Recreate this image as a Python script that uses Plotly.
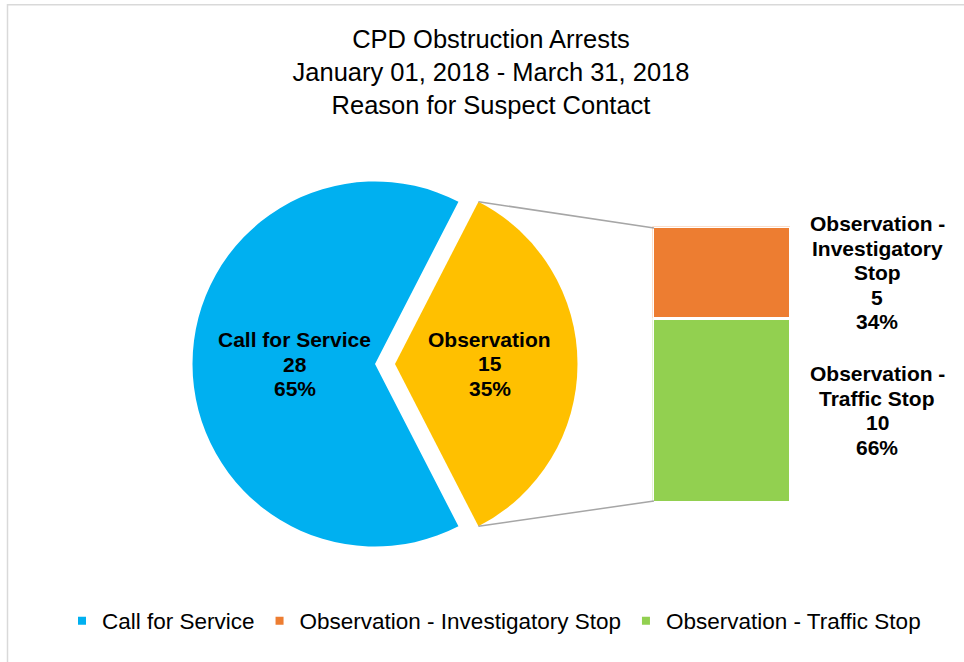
import math
import plotly.graph_objects as go

# ---- data -------------------------------------------------------------
pie_labels = ["Call for Service", "Observation"]
pie_values = [28, 15]
pie_colors = ["#00B0F0", "#FFC000"]

bar_labels = ["Observation - Traffic Stop", "Observation - Investigatory Stop"]
bar_values = [10, 5]
bar_pct_labels = ["66%", "34%"]
bar_colors = ["#92D050", "#ED7D31"]
bar_text_lines = [["Observation -", "Traffic Stop"], ["Observation -", "Investigatory", "Stop"]]

legend_names = ["Call for Service", "Observation - Investigatory Stop", "Observation - Traffic Stop"]
legend_colors = ["#00B0F0", "#ED7D31", "#92D050"]

title_lines = ["CPD Obstruction Arrests", "January 01, 2018 - March 31, 2018", "Reason for Suspect Contact"]

# ---- layout geometry (pixels) ----------------------------------------
W, H = 964, 662
FONT = "Arial, 'Liberation Sans', sans-serif"
LABEL_SIZE = 21
LINE_PITCH = 24.5

def fx(p):
    return p / W

def fy(p):
    return 1 - p / H

PIE_CX, PIE_CY, PIE_R = 375.0, 364.0, 182.5
PULL_PX = 20.0
pull = PULL_PX / PIE_R
half_box = PIE_R * (1 + pull)
label_radius = [0.44, 0.52]   # radial position of each slice label (fraction of radius)

BAR_L, BAR_R = 652.5, 790.5
BAR_TOP, BAR_BOT = 226.5, 502.5
BAR_LABEL_X = 877

total_pie = sum(pie_values)
total_obs = sum(bar_values)
obs_share = pie_values[1] / total_pie
half_angle = math.pi * obs_share            # half of the exploded slice
rotation = 90 + math.degrees(half_angle)    # centre the exploded slice at 3 o'clock
pulls = [0, pull]

fig = go.Figure()

fig.add_trace(go.Pie(
    labels=pie_labels,
    values=pie_values,
    sort=False,
    direction="clockwise",
    rotation=rotation,
    pull=pulls,
    marker=dict(colors=pie_colors, line=dict(width=0)),
    textinfo="none",
    hoverinfo="label+value+percent",
    showlegend=False,
    domain=dict(x=[fx(PIE_CX - half_box), fx(PIE_CX + half_box)],
                y=[fy(PIE_CY + half_box), fy(PIE_CY - half_box)]),
))

for name, val, col in zip(bar_labels, bar_values, bar_colors):
    fig.add_trace(go.Bar(
        x=[0], y=[val], name=name, width=1,
        marker=dict(color=col, line=dict(color="white", width=3)),
        showlegend=False, hoverinfo="name+y",
    ))

for name, col in zip(legend_names, legend_colors):
    fig.add_trace(go.Scatter(
        x=[None], y=[None], mode="markers", name=name,
        marker=dict(symbol="square", size=8, color=col),
    ))


def text_block(lines, x, y, yref):
    """Centred multi-line bold label with a fixed line pitch."""
    out = []
    n = len(lines)
    for i, line in enumerate(lines):
        out.append(dict(
            x=x, xref="paper", y=y, yref=yref,
            yshift=((n - 1) / 2 - i) * LINE_PITCH,
            text=f"<b>{line}</b>", showarrow=False,
            xanchor="center", yanchor="middle",
            font=dict(family=FONT, size=LABEL_SIZE, color="black"),
        ))
    return out


annotations = []

# slice labels: name, count and share, placed along each slice's bisector
start = math.radians(rotation)
for lab, val, frac, pl in zip(pie_labels, pie_values, label_radius, pulls):
    span = 2 * math.pi * val / total_pie
    mid = start + span / 2
    start += span
    r = PIE_R * (frac + pl)
    px = PIE_CX + r * math.sin(mid)
    py = PIE_CY - r * math.cos(mid)
    pct = f"{round(100 * val / total_pie)}%"
    annotations += text_block([lab, str(val), pct], fx(px), fy(py), "paper")

# labels beside the stacked column, centred on each segment
cum = 0
for lines, val, pct in zip(bar_text_lines, bar_values, bar_pct_labels):
    mid = cum + val / 2
    cum += val
    annotations += text_block(lines + [str(val), pct], fx(BAR_LABEL_X), mid, "y")

# connector lines from the exploded slice to the column
tip_x = PIE_CX + PULL_PX + PIE_R * math.cos(half_angle)
tip_dy = PIE_R * math.sin(half_angle)
shapes = [
    dict(type="line", xref="paper", yref="paper",
         x0=fx(tip_x), y0=fy(PIE_CY - tip_dy), x1=fx(BAR_L + 1.5), y1=fy(BAR_TOP + 1.5),
         line=dict(color="#A6A6A6", width=1.5)),
    dict(type="line", xref="paper", yref="paper",
         x0=fx(tip_x), y0=fy(PIE_CY + tip_dy), x1=fx(BAR_L + 1.5), y1=fy(BAR_BOT - 1.5),
         line=dict(color="#A6A6A6", width=1.5)),
    # chart-area border
    dict(type="rect", xref="paper", yref="paper",
         x0=fx(7.5), y0=fy(672), x1=fx(975), y1=fy(4.8),
         line=dict(color="#D9D9D9", width=1.5), layer="below"),
]

fig.update_layout(
    width=W, height=H,
    margin=dict(l=0, r=0, t=0, b=0),
    paper_bgcolor="white", plot_bgcolor="rgba(0,0,0,0)",
    barmode="stack", bargap=0,
    font=dict(family=FONT, color="black"),
    title=dict(text="<br>".join(title_lines), x=fx(491), xanchor="center",
               y=fy(48), yanchor="middle", yref="container",
               font=dict(family=FONT, size=25.5, color="black")),
    xaxis=dict(domain=[fx(BAR_L), fx(BAR_R)], range=[-0.5, 0.5], visible=False, fixedrange=True),
    yaxis=dict(domain=[fy(BAR_BOT), fy(BAR_TOP)], range=[0, total_obs], visible=False, fixedrange=True),
    legend=dict(orientation="h", traceorder="normal", x=fx(494), xanchor="center",
                y=fy(621), yanchor="middle", itemwidth=30,
                font=dict(family=FONT, size=22.5, color="black"), bgcolor="rgba(0,0,0,0)"),
    annotations=annotations,
    shapes=shapes,
)

fig.write_html("out.html")
